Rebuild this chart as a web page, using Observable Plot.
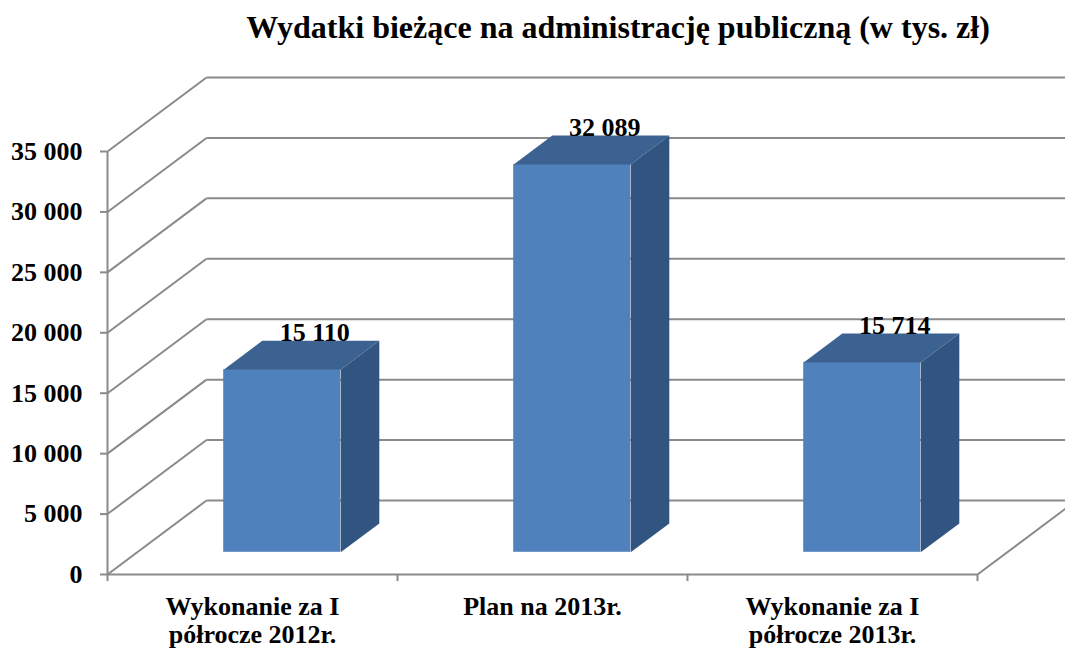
<!DOCTYPE html>
<html><head><meta charset="utf-8">
<script src="https://cdn.jsdelivr.net/npm/d3@7"></script>
<script src="https://cdn.jsdelivr.net/npm/@observablehq/plot@0.6"></script>
<style>
body{margin:0;background:#fff;}
#wrap{position:relative;width:1065px;height:651px;overflow:hidden;}
#wrap svg{position:absolute;left:0;top:0;}
#title{position:absolute;left:171px;width:894px;top:11px;text-align:center;font-weight:bold;font-size:32px;font-family:"Liberation Serif","Times New Roman","DejaVu Serif",serif;line-height:32px;color:#000;white-space:nowrap;z-index:2;}
</style></head><body>
<div id="wrap"><div id="title">Wydatki bieżące na administrację publiczną (w tys. zł)</div></div>
<script>
// ---- data ----
const categories = ["Wykonanie za I\npółrocze 2012r.", "Plan na 2013r.", "Wykonanie za I\npółrocze 2013r."];
const values = [15110, 32089, 15714];
const yTicks = [0, 5000, 10000, 15000, 20000, 25000, 30000, 35000];

// ---- layout ----
const W = 1065, H = 651, ML = 107, MR = 88, MT = 151, MB = 77;
const YMAX = 35000;
const NCAT = categories.length;
const pxX = (W - ML - MR) / NCAT;     // px per category unit
const pxY = (H - MT - MB) / YMAX;     // px per value unit
const WALL = [99, 74];                // depth of the 3D box in px
const wx = WALL[0] / pxX, wy = WALL[1] / pxY;
const FRONT = 0.3, DEPTH = 0.39, BARW = 0.4034;
const GRID = "#8a8a8a";
const C_FRONT = "#4f81bd", C_TOP = "#3c6291", C_SIDE = "#325480";
const FONT = "'Liberation Serif', 'Times New Roman', 'DejaVu Serif', serif";

const fmt = d => d3.format(",")(d).replace(/,/g, " ");

// derived geometry (from data)
const bars = values.map((v, i) => {
  const xl = i + 0.5 - BARW / 2 + FRONT * wx;
  const xr = xl + BARW;
  const y0 = FRONT * wy;
  const yt = y0 + v;
  return {i, v, xl, xr, y0, yt, dx: DEPTH * wx, dy: DEPTH * wy};
});
const polys = [];
bars.forEach(b => {
  [[b.xl, b.yt], [b.xr, b.yt], [b.xr + b.dx, b.yt + b.dy], [b.xl + b.dx, b.yt + b.dy]]
    .forEach(([x, y]) => polys.push({id: "top" + b.i, face: "top", x, y}));
  [[b.xr, b.y0], [b.xr, b.yt], [b.xr + b.dx, b.yt + b.dy], [b.xr + b.dx, b.y0 + b.dy]]
    .forEach(([x, y]) => polys.push({id: "side" + b.i, face: "side", x, y}));
});
const xEnd = (W - ML) / pxX;               // right edge of picture in x units
const tFloor = (W - ML - NCAT * pxX) / WALL[0];

const plot = Plot.plot({
  width: W, height: H,
  marginLeft: ML, marginRight: MR, marginTop: MT, marginBottom: MB,
  x: {type: "linear", domain: [0, NCAT], axis: null},
  y: {type: "linear", domain: [0, YMAX], axis: null},
  style: {fontFamily: FONT, fontSize: "26px", fontWeight: "bold", color: "#000", background: "white", overflow: "visible"},
  marks: [
    // left wall diagonals
    Plot.link(yTicks, {x1: 0, x2: wx, y1: d => d, y2: d => d + wy, stroke: GRID, strokeWidth: 2}),
    // back wall gridlines
    Plot.link(yTicks, {x1: wx, x2: xEnd, y1: d => d + wy, y2: d => d + wy, stroke: GRID, strokeWidth: 2}),
    // floor front edge and right edge
    Plot.link([0], {x1: 0, x2: NCAT, y1: 0, y2: 0, stroke: GRID, strokeWidth: 2}),
    Plot.link([0], {x1: NCAT, x2: NCAT + tFloor * wx, y1: 0, y2: tFloor * wy, stroke: GRID, strokeWidth: 2}),
    // front value axis line
    Plot.link([0], {x1: 0, x2: 0, y1: 0, y2: YMAX, stroke: GRID, strokeWidth: 2}),
    Plot.axisY(yTicks, {tickSize: 7, tickPadding: 18, tickFormat: fmt, stroke: GRID, strokeWidth: 2, fontSize: 26, fontWeight: "bold", fontFamily: FONT}),
    Plot.axisX(d3.range(NCAT + 1), {tickSize: 7, tickFormat: () => "", stroke: GRID, strokeWidth: 2}),
    Plot.axisX(d3.range(NCAT).map(i => i + 0.5), {tickSize: 0, tickPadding: 20, lineHeight: 1.1,
      tickFormat: d => categories[Math.floor(d)], fontSize: 26, fontWeight: "bold", fontFamily: FONT}),
    // bars
    Plot.rect(bars, {x1: "xl", x2: "xr", y1: "y0", y2: "yt", fill: C_FRONT}),
    Plot.line(polys.filter(p => p.face === "top"), {x: "x", y: "y", z: "id", fill: C_TOP, stroke: "none"}),
    Plot.line(polys.filter(p => p.face === "side"), {x: "x", y: "y", z: "id", fill: C_SIDE, stroke: "none"}),
    // value labels
    Plot.text(bars, {x: b => (b.xl + b.xr) / 2 + b.dx, y: b => b.yt + b.dy, text: b => fmt(b.v),
      lineAnchor: "bottom", dx: -6, dy: 0, fontSize: 26, fontWeight: "bold", fontFamily: FONT, fill: "#000"})
  ]
});
document.getElementById("wrap").appendChild(plot);
</script>
</body></html>
